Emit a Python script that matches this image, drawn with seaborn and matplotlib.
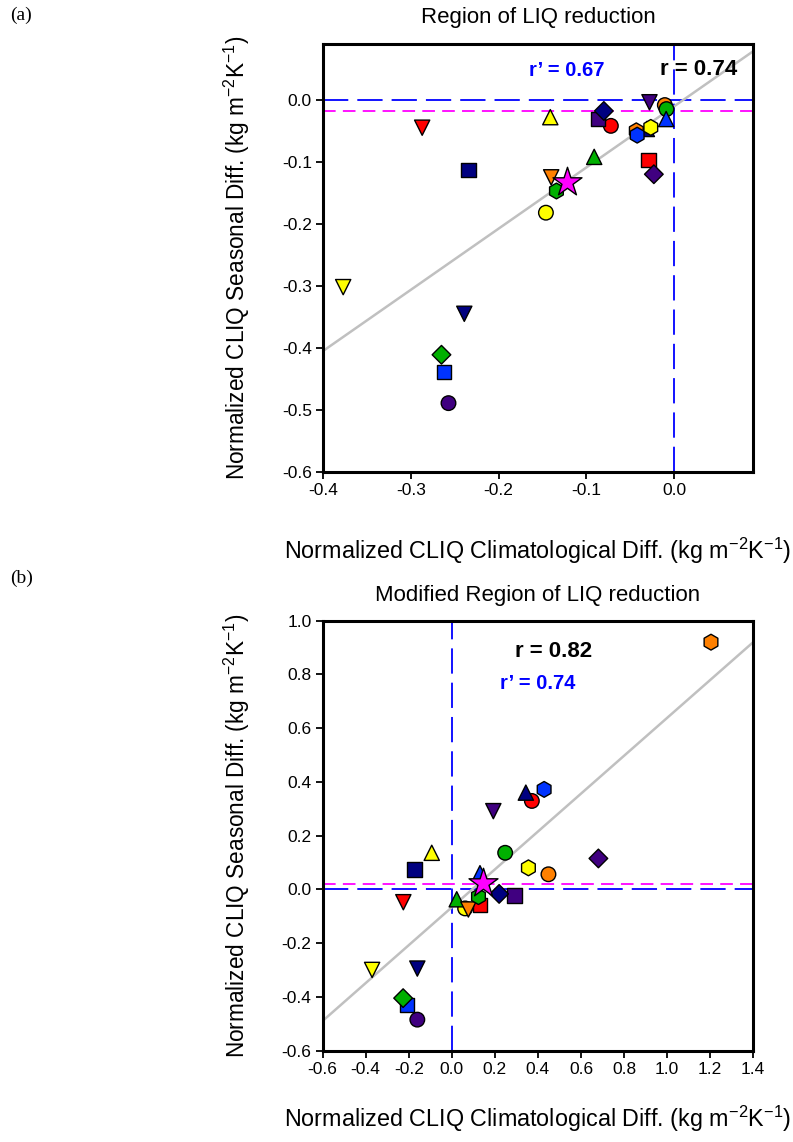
import numpy as np
import pandas as pd
import matplotlib
matplotlib.use("Agg")
import matplotlib.pyplot as plt
import seaborn as sns

sns.set_theme(style="white")
plt.rcParams['font.family'] = ['Liberation Sans', 'DejaVu Sans']
plt.rcParams['mathtext.fontset'] = 'custom'
plt.rcParams['mathtext.rm'] = 'Liberation Sans'
plt.rcParams['mathtext.it'] = 'Liberation Sans'
plt.rcParams['text.color'] = 'black'
plt.rcParams['axes.labelcolor'] = 'black'
plt.rcParams['xtick.color'] = 'black'
plt.rcParams['ytick.color'] = 'black'

# ---------------- data ----------------
COLORS = {
    'red': '#FF0000', 'orange': '#FF8000', 'yellow': '#FFFF00', 'green': '#00B000',
    'blue': '#0033FF', 'navy': '#000080', 'indigo': '#400080', 'magenta': '#FF00FF',
}

# model identifiers: (colour, marker)
model_color = ['red', 'yellow', 'navy', 'orange', 'green', 'yellow', 'green', 'navy',
               'indigo', 'red', 'orange', 'blue', 'navy', 'yellow', 'indigo', 'orange',
               'green', 'blue', 'red', 'indigo', 'yellow', 'navy', 'green', 'blue',
               'indigo', 'magenta']
model_marker = ['v', '^', 's', 'v', 'h', 'o', '^', 'D',
                's', 'o', 'h', 'h', '^', 'h', 'v', 'o',
                'o', '^', 's', 'D', 'v', 'v', 'D', 's',
                'o', '*']

# panel (a)
clim_a = [-0.287, -0.141, -0.234, -0.140, -0.134, -0.146, -0.091, -0.080,
          -0.0865, -0.072, -0.043, -0.042, -0.031, -0.0265, -0.028, -0.0105,
          -0.0086, -0.009, -0.029, -0.023, -0.377, -0.239, -0.265, -0.262,
          -0.257, -0.1225]
seas_a = [-0.045, -0.028, -0.113, -0.125, -0.147, -0.182, -0.092, -0.018,
          -0.031, -0.042, -0.050, -0.057, -0.047, -0.0445, -0.004, -0.0085,
          -0.015, -0.031, -0.097, -0.120, -0.302, -0.345, -0.411, -0.439,
          -0.489, -0.132]

# panel (b)
clim_b = [-0.225, -0.093, -0.174, 0.077, 0.124, 0.062, 0.023, 0.220,
          0.291, 0.372, 1.204, 0.429, 0.344, 0.356, 0.193, 0.449,
          0.248, 0.131, 0.131, 0.681, -0.370, -0.160, -0.226, -0.208,
          -0.160, 0.147]
seas_b = [-0.048, 0.136, 0.074, -0.075, -0.027, -0.071, -0.037, -0.017,
          -0.024, 0.329, 0.920, 0.372, 0.360, 0.080, 0.291, 0.056,
          0.136, 0.060, -0.058, 0.115, -0.300, -0.295, -0.405, -0.430,
          -0.485, 0.022]

# regression lines (slope, intercept) and reference lines
fit_a = (0.986, -0.0106)
fit_b = (0.705, -0.067)
mean_line_a = -0.018
mean_line_b = 0.019
r_a, rp_a = "r = 0.74", "r\u2019 = 0.67"
r_b, rp_b = "r = 0.82", "r\u2019 = 0.74"

xticks_a = [-0.4, -0.3, -0.2, -0.1, 0.0]
yticks_a = [-0.6, -0.5, -0.4, -0.3, -0.2, -0.1, 0.0]
xticks_b = [-0.6, -0.4, -0.2, 0.0, 0.2, 0.4, 0.6, 0.8, 1.0, 1.2, 1.4]
yticks_b = [-0.6, -0.4, -0.2, 0.0, 0.2, 0.4, 0.6, 0.8, 1.0]

xlabel = "Normalized CLIQ Climatological Diff. (kg m$^{-2}$K$^{-1}$)"
ylabel = "Normalized CLIQ Seasonal Diff. (kg m$^{-2}$K$^{-1}$)"

# ---------------- figure ----------------
fig = plt.figure(figsize=(7.93, 11.42), dpi=100)
ax_a = fig.add_axes([0.4073, 0.5867, 0.5423, 0.3748])
ax_b = fig.add_axes([0.4068, 0.0801, 0.5430, 0.3764])


def draw(ax, cx, cy, fit, mline, xlim, ylim, xticks, yticks):
    df = pd.DataFrame({'x': cx, 'y': cy, 'c': model_color, 'm': model_marker})
    # reference lines
    ax.axhline(0, color='#0000FF', lw=1.3, dashes=(14, 5), zorder=1)
    ax.axvline(0, color='#0000FF', lw=1.3, dashes=(14, 5), zorder=1)
    ax.axhline(mline, color='#FF00FF', lw=1.3, dashes=(7, 4), zorder=1)
    # regression
    xs = np.array(xlim)
    sns.lineplot(x=xs, y=fit[0] * xs + fit[1], ax=ax, color='#C0C0C0', lw=1.8, zorder=2)
    sizes = {'o': 110, 's': 110, '^': 120, 'v': 120, 'D': 90, 'h': 130}
    for m in ['o', 's', '^', 'v', 'D', 'h']:
        sub = df[df['m'] == m]
        sns.scatterplot(data=sub, x='x', y='y', hue='c', palette=COLORS, marker=m,
                        s=sizes[m], edgecolor='black', linewidth=1.0, legend=False,
                        ax=ax, zorder=3)
    star = df[df['m'] == '*']
    sns.scatterplot(data=star, x='x', y='y', hue='c', palette=COLORS, marker='*',
                    s=480, edgecolor='black', linewidth=1.0, legend=False, ax=ax, zorder=4)
    ax.set_xlim(*xlim)
    ax.set_ylim(*ylim)
    ax.set_xticks(xticks)
    ax.set_yticks(yticks)
    ax.set_xticklabels([f"{t:.1f}" for t in xticks])
    ax.set_yticklabels([f"{t:.1f}" for t in yticks])
    ax.tick_params(direction='out', length=5, width=1.3, labelsize=12.5, pad=3,
                   bottom=True, left=True, colors='black')
    for s in ax.spines.values():
        s.set_linewidth(2.2)
        s.set_color('black')
        s.set_visible(True)
    ax.set_xlabel(xlabel, fontsize=16.8, color='black')
    ax.set_ylabel(ylabel, fontsize=16.3, color='black')
    ax.grid(False)


draw(ax_a, clim_a, seas_a, fit_a, mean_line_a, (-0.4, 0.09), (-0.6, 0.09),
     xticks_a, yticks_a)
draw(ax_b, clim_b, seas_b, fit_b, mean_line_b, (-0.6, 1.4), (-0.6, 1.0),
     xticks_b, yticks_b)

ax_a.set_title("Region of LIQ reduction", fontsize=16, pad=15, color='black')
ax_b.set_title("Modified Region of LIQ reduction", fontsize=16, pad=14, color='black')

ax_a.text(0.0715, 0.049, r_a, ha='right', va='center', fontsize=16, fontweight='bold', color='black')
ax_a.text(-0.122, 0.047, rp_a, ha='center', va='center', fontsize=14.5, fontweight='bold', color='#0000FF')
ax_b.text(0.472, 0.885, r_b, ha='center', va='center', fontsize=16, fontweight='bold', color='black')
ax_b.text(0.399, 0.767, rp_b, ha='center', va='center', fontsize=14.5, fontweight='bold', color='#0000FF')

ax_a.xaxis.set_label_coords(0.5, -0.148)
ax_b.xaxis.set_label_coords(0.5, -0.125)
ax_a.yaxis.set_label_coords(-0.165, 0.5)
ax_b.yaxis.set_label_coords(-0.165, 0.5)

fig.text(10 / 793, 1 - 15 / 1142, "(a)", family='Liberation Serif', fontsize=14, va='center', ha='left', color='black')
fig.text(10 / 793, 1 - 578 / 1142, "(b)", family='Liberation Serif', fontsize=14, va='center', ha='left', color='black')

fig.savefig("out.png", dpi=100)
